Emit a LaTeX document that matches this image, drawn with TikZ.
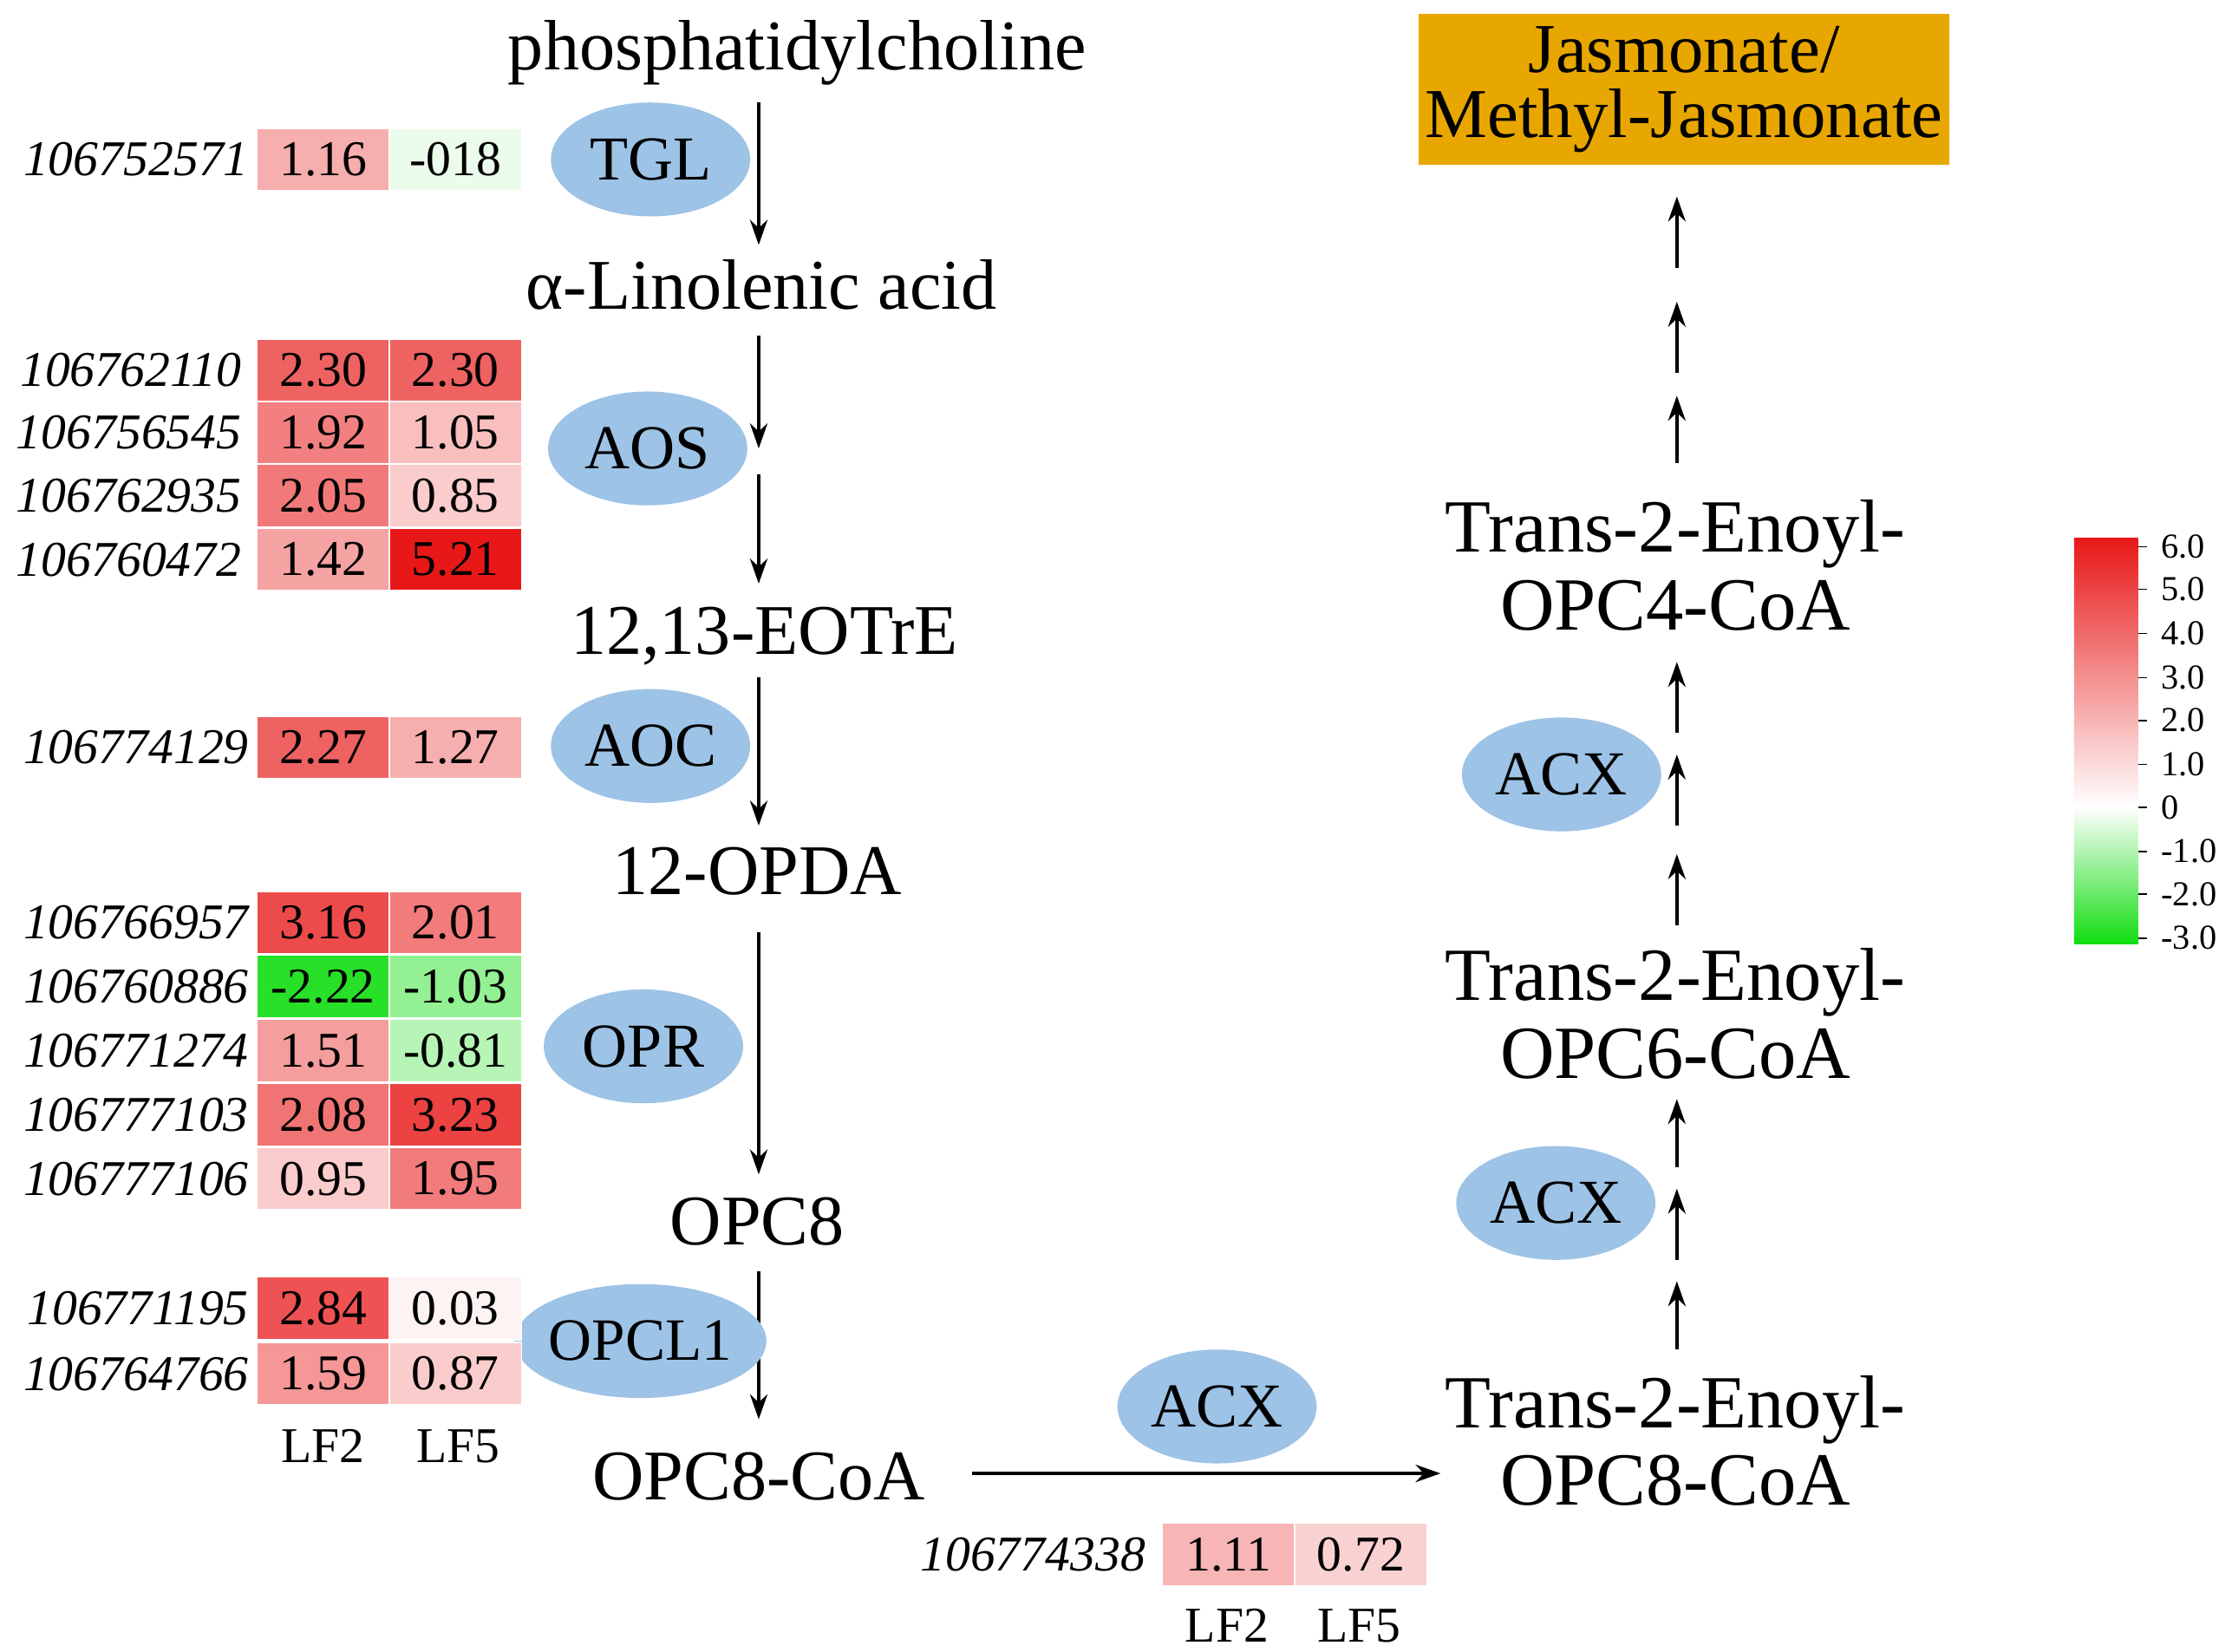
\documentclass[tikz,border=0pt]{standalone}
\usepackage{fontspec}
\setmainfont{Liberation Serif}
\usetikzlibrary{arrows.meta,shapes.geometric}
\definecolor{hr}{HTML}{E81818}
\definecolor{hg}{HTML}{10DD10}
\definecolor{enz}{HTML}{9DC3E6}
\definecolor{jas}{HTML}{E8A600}
\tikzset{
 big/.style={font=\fontsize{28.5}{30}\selectfont, inner sep=0pt},
 gene/.style={font=\fontsize{20}{22}\selectfont\itshape, anchor=east, inner sep=0pt},
 cellbox/.style={draw=white, line width=0.6pt, minimum width=1.86cm, minimum height=0.88cm, font=\fontsize{20}{22}\selectfont, inner sep=0pt},
 enzyme/.style={ellipse, fill=enz, minimum width=2.8cm, minimum height=1.6cm, font=\fontsize{25}{28}\selectfont, inner sep=0pt},
 arr/.style={-{Stealth[length=10pt,width=7pt]}, line width=1.2pt},
 lab/.style={font=\fontsize{20}{22}\selectfont, inner sep=0pt},
 tick/.style={font=\fontsize{14}{16}\selectfont, anchor=west, inner sep=0pt}
}
\begin{document}
\begin{tikzpicture}[x=0.02cm,y=-0.02cm]
\useasboundingbox (0,0) rectangle (1568,1160);
% main chain
\node[big] (pc) at (560,37) {phosphatidylcholine};
\node[big] (ala) at (535,200) {α-Linolenic acid};
\node[big] (eot) at (537,447) {12,13-EOTrE};
\node[big] (opda) at (532,612) {12-OPDA};
\node[big] (opc8) at (532,858) {OPC8};
\node[big] (opc8coa) at (533,1037) {OPC8-CoA};
\coordinate (m1) at (533,315);
\coordinate (m2) at (533,333);
\draw[arr] (533,72) -- (533,172);
\draw[arr] (533,236) -- (m1);
\draw[arr] (m2) -- (533,410);
\draw[arr] (533,476) -- (533,580);
\draw[arr] (533,655) -- (533,825);
\draw[arr] (533,893) -- (533,997);
% enzymes
\node[enzyme] (tgl) at (457,112) {TGL};
\node[enzyme] (aos) at (455,315) {AOS};
\node[enzyme] (aoc) at (457,524) {AOC};
\node[enzyme] (opr) at (452,735) {OPR};
\node[enzyme, minimum width=2.8cm] (opcl) at (450,942) {\makebox[2.5cm]{\fontsize{24}{26}\selectfont OPCL1}};
\node[enzyme] (acx1) at (855,988) {ACX};
\node[enzyme] (acx2) at (1093,845) {ACX};
\node[enzyme] (acx3) at (1097,544) {ACX};
% right column
\tikzset{rt/.style={font=\fontsize{30}{32}\selectfont, inner sep=0pt, align=center}}
\node[rt] (t8) at (1177,1012) {Trans-2-Enoyl-\\[-1pt]OPC8-CoA};
\node[rt] (t6) at (1177,712) {Trans-2-Enoyl-\\[-1pt]OPC6-CoA};
\node[rt] (t4) at (1177,397) {Trans-2-Enoyl-\\[-1pt]OPC4-CoA};
\node[fill=jas, minimum width=7.46cm, minimum height=2.12cm, align=center, font=\fontsize{28}{26}\selectfont, inner sep=0pt] (jas) at (1183,63) {Jasmonate/\\Methyl-Jasmonate};
\coordinate (hs) at (683,1035);
\coordinate (he) at (1012,1035);
\draw[arr] (hs) -- (he);
\foreach \a/\b in {948/900,885/835,820/772,650/600,580/530,515/465,325/278,262/212,188/138}
  \draw[arr] (1178,\a) -- (1178,\b);
% heat cells
\newcommand{\hc}[6]{% name,y,color1,val1,color2,val2
 \node[cellbox, fill=#3] (#1a) at (227,#2) {#4};
 \node[cellbox, fill=#5] (#1b) at (320,#2) {#6};}
\node[gene] (g1) at (175,112) {106752571};
\hc{c1}{112}{hr!35!white}{1.16}{hg!8!white}{-018}
\node[gene] (g2) at (170,260) {106762110};
\hc{c2}{260}{hr!68!white}{2.30}{hr!68!white}{2.30}
\node[gene] (g3) at (170,304) {106756545};
\hc{c3}{304}{hr!55!white}{1.92}{hr!28!white}{1.05}
\node[gene] (g4) at (170,348) {106762935};
\hc{c4}{348}{hr!58!white}{2.05}{hr!22!white}{0.85}
\node[gene] (g5) at (170,393) {106760472};
\hc{c5}{393}{hr!40!white}{1.42}{hr}{5.21}
\node[gene] (g6) at (175,525) {106774129};
\hc{c6}{525}{hr!68!white}{2.27}{hr!35!white}{1.27}
\node[gene] (g7) at (175,648) {106766957};
\hc{c7}{648}{hr!78!white}{3.16}{hr!57!white}{2.01}
\node[gene] (g8) at (175,693) {106760886};
\hc{c8}{693}{hg!90!white}{-2.22}{hg!45!white}{-1.03}
\node[gene] (g9) at (175,738) {106771274};
\hc{c9}{738}{hr!42!white}{1.51}{hg!30!white}{-0.81}
\node[gene] (g10) at (175,783) {106777103};
\hc{c10}{783}{hr!60!white}{2.08}{hr!82!white}{3.23}
\node[gene] (g11) at (175,828) {106777106};
\hc{c11}{828}{hr!22!white}{0.95}{hr!57!white}{1.95}
\node[gene] (g12) at (175,919) {106771195};
\hc{c12}{919}{hr!75!white}{2.84}{hr!5!white}{0.03}
\node[gene] (g13) at (175,965) {106764766};
\hc{c13}{965}{hr!45!white}{1.59}{hr!22!white}{0.87}
\node[lab] (l1) at (227,1016) {LF2};
\node[lab] (l2) at (322,1016) {LF5};
% bottom
\node[gene] (g14) at (805,1092) {106774338};
\node[cellbox, fill=hr!32!white] (c14a) at (863,1092) {1.11};
\node[cellbox, fill=hr!20!white] (c14b) at (956,1092) {0.72};
\node[lab] (l3) at (862,1142) {LF2};
\node[lab] (l4) at (955,1142) {LF5};
% colour bar
\shade[top color=hr, bottom color=white] (1457,378) rectangle (1502,567);
\shade[top color=white, bottom color=hg] (1457,567) rectangle (1502,663);
\foreach \y/\t in {384/6.0,414/5.0,445/4.0,476/3.0,506/2.0,537/1.0,567/0,598/-1.0,628/-2.0,659/-3.0}{
  \draw[line width=0.6pt] (1502,\y) -- (1508,\y);
  \node[tick] at (1518,\y) {\t};}
\end{tikzpicture}
\end{document}
